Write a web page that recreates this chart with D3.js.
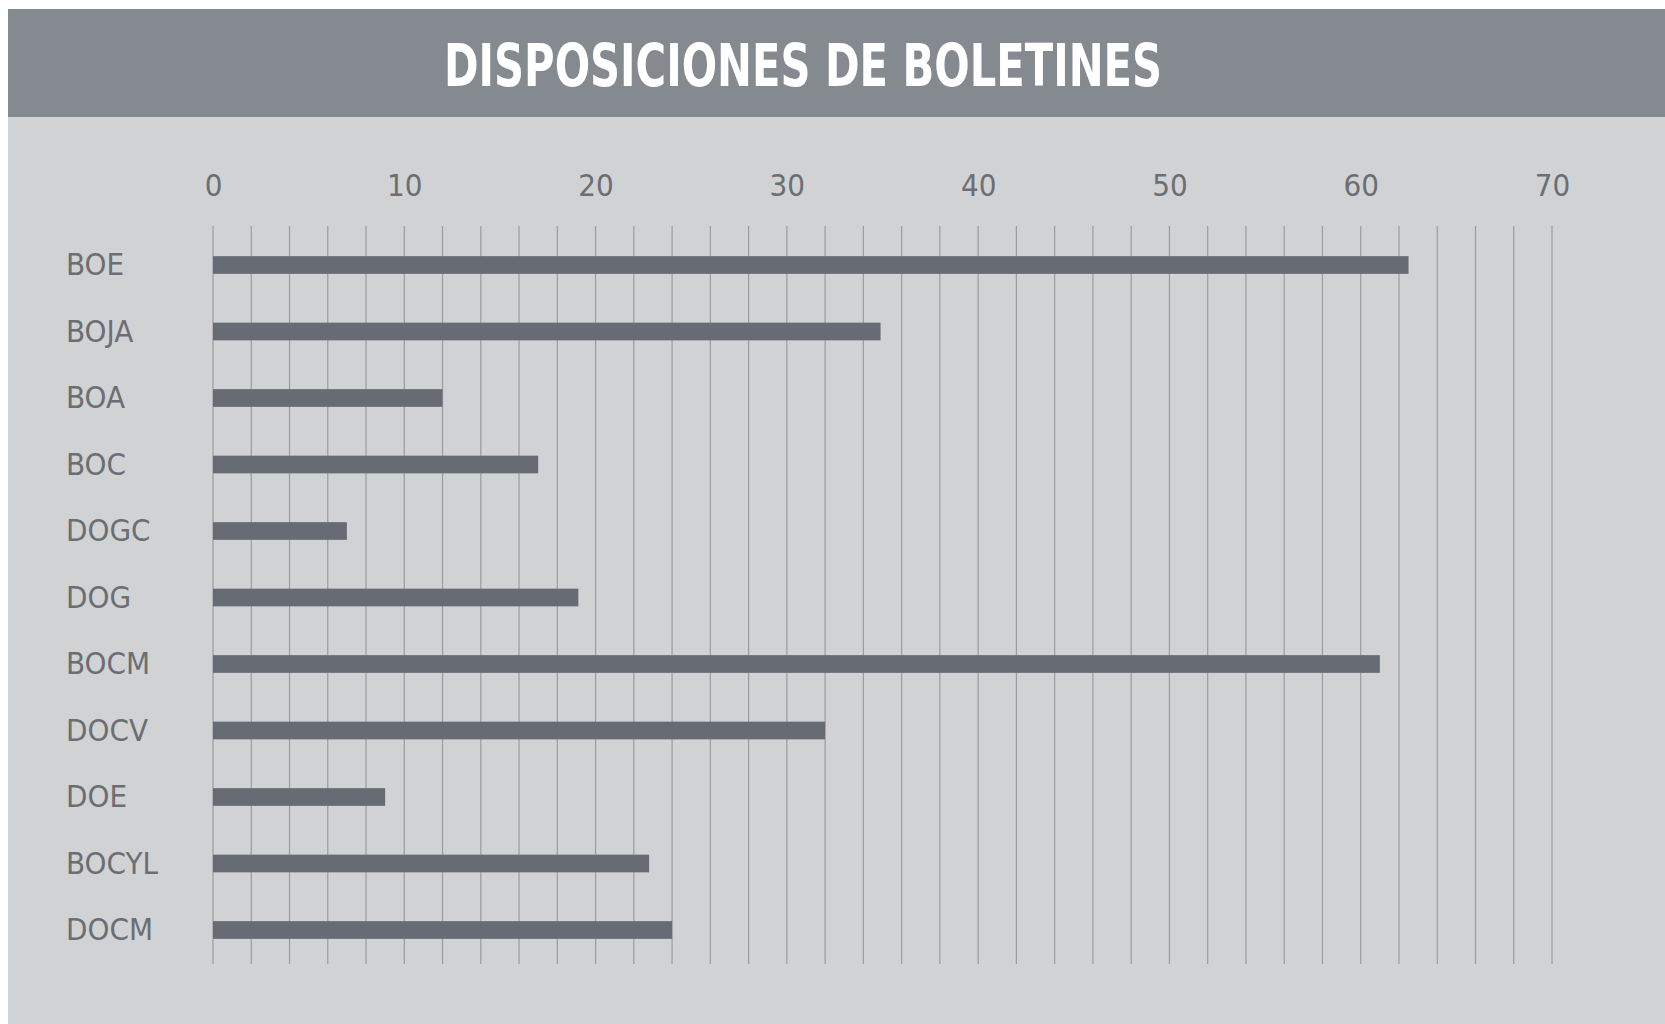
<!DOCTYPE html>
<html>
<head>
<meta charset="utf-8">
<script src="https://cdn.jsdelivr.net/npm/d3@7"></script>
<style>
  html, body { margin: 0; padding: 0; background: #ffffff; }
  svg { display: block; }
  .lbl { font-family: "DejaVu Sans Condensed", "Liberation Sans Narrow", "Roboto", sans-serif; font-stretch: condensed; }
</style>
</head>
<body>
<svg></svg>
<script>
const titleText = "DISPOSICIONES DE BOLETINES";
const categories = ["BOE", "BOJA", "BOA", "BOC", "DOGC", "DOG", "BOCM", "DOCV", "DOE", "BOCYL", "DOCM"];
const values = [62.5, 34.9, 12, 17, 7, 19.1, 61, 32, 9, 22.8, 24];
const tickValues = [0, 10, 20, 30, 40, 50, 60, 70];
const gridValues = d3.range(0, 71, 2);

const width = 1665;
const height = 1024;

const svg = d3.select("svg").attr("width", width).attr("height", height);

// panel + header band
svg.append("rect")
  .attr("x", 8).attr("y", 9)
  .attr("width", width - 8).attr("height", height - 9)
  .attr("fill", "#d1d2d4");

svg.append("rect")
  .attr("x", 8).attr("y", 9)
  .attr("width", width - 8).attr("height", 108)
  .attr("fill", "#858990");

svg.append("text")
  .attr("class", "lbl")
  .attr("x", 803)
  .attr("y", 86)
  .attr("text-anchor", "middle")
  .attr("font-size", 58)
  .attr("font-weight", "bold")
  .attr("textLength", 718)
  .attr("lengthAdjust", "spacingAndGlyphs")
  .attr("fill", "#ffffff")
  .text(titleText);

const xScale = d3.scaleLinear().domain([0, 70]).range([213, 1552]);
const yScale = d3.scalePoint().domain(categories).range([265, 930]);

const gridTop = 226;
const gridBottom = 964;

// vertical grid lines every 2 units
svg.append("g")
  .selectAll("line")
  .data(gridValues)
  .join("line")
  .attr("x1", (d) => xScale(d))
  .attr("x2", (d) => xScale(d))
  .attr("y1", gridTop)
  .attr("y2", gridBottom)
  .attr("stroke", "#9a9ca2")
  .attr("stroke-width", 1.2);

// top axis labels
const xAxis = d3.axisTop(xScale).tickValues(tickValues).tickSize(0).tickPadding(0);
const xAxisG = svg.append("g")
  .attr("transform", "translate(0,196)")
  .call(xAxis);
xAxisG.select(".domain").remove();
xAxisG.selectAll("text")
  .attr("class", "lbl")
  .attr("font-size", 31)
  .attr("fill", "#6b6e73")
  .attr("dy", 0);

// bars
const barH = 17.7;
svg.append("g")
  .selectAll("rect")
  .data(categories)
  .join("rect")
  .attr("x", xScale(0))
  .attr("y", (d) => yScale(d) - barH / 2)
  .attr("width", (d, i) => xScale(values[i]) - xScale(0))
  .attr("height", barH)
  .attr("fill", "#676b74");

// category labels
svg.append("g")
  .selectAll("text")
  .data(categories)
  .join("text")
  .attr("class", "lbl")
  .attr("x", 66)
  .attr("y", (d) => yScale(d))
  .attr("dy", "0.33em")
  .attr("font-size", 31)
  .attr("fill", "#6b6e73")
  .text((d) => d);
</script>
</body>
</html>
